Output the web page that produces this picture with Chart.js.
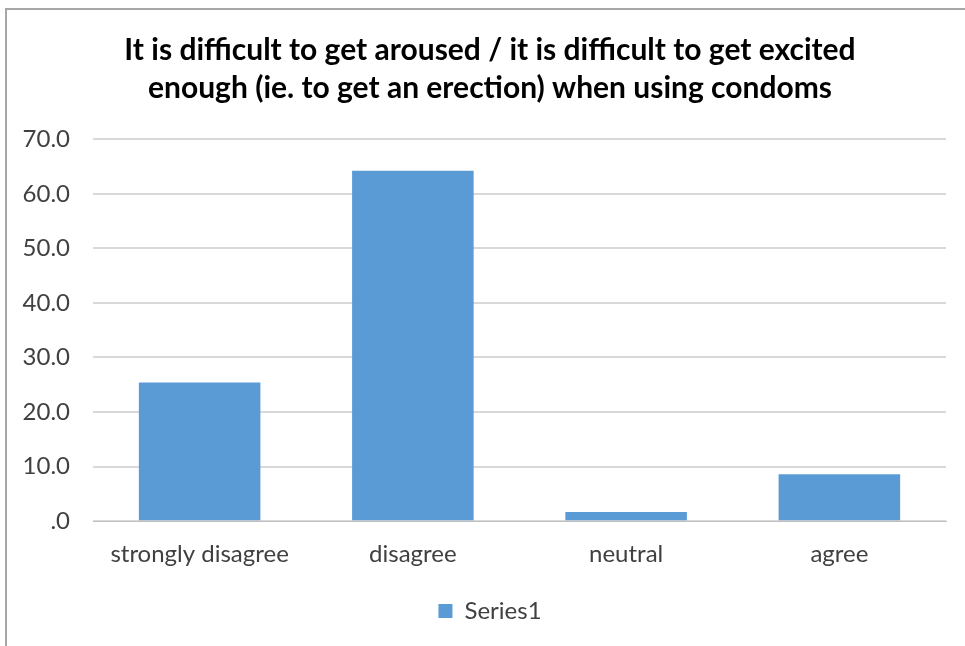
<!DOCTYPE html>
<html>
<head>
<meta charset="utf-8">
<title>Condom use survey</title>
<script src="https://cdn.jsdelivr.net/npm/chart.js@4/dist/chart.umd.min.js"></script>
<style>
  html, body { margin: 0; padding: 0; background: #ffffff; }
  #wrap { position: relative; width: 965px; height: 646px; overflow: hidden; }
  #frame {
    position: absolute; left: 5px; top: 8px; right: -4px; bottom: -4px;
    border-left: 2px solid #a6a6a6; border-top: 2px solid #a6a6a6;
  }
  canvas { position: absolute; left: 0; top: 0; }
</style>
</head>
<body>
<div id="wrap">
  <div id="frame"></div>
  <canvas id="chart" width="965" height="646"></canvas>
</div>
<script>
// Survey item and answer shares (percent)
const titleLines = [
  'It is difficult to get aroused / it is difficult to get excited',
  'enough (ie. to get an erection) when using condoms'
];
const categories = ['strongly disagree', 'disagree', 'neutral', 'agree'];
const seriesName = 'Series1';
const values = [25.4, 64.2, 1.7, 8.6];
const yTicks = [0, 10, 20, 30, 40, 50, 60, 70];

const FONT = 'Lato, "Open Sans", sans-serif';
const TEXT = '#404040';

new Chart(document.getElementById('chart'), {
  type: 'bar',
  data: {
    labels: categories,
    datasets: [{
      label: seriesName,
      data: values,
      backgroundColor: '#5b9bd5',
      borderWidth: 0,
      barPercentage: 0.57,
      categoryPercentage: 1.0
    }]
  },
  options: {
    responsive: false,
    animation: false,
    devicePixelRatio: 1,
    layout: { padding: { left: 18, right: 3, top: 0, bottom: 13 } },
    plugins: {
      title: {
        display: true,
        text: titleLines,
        color: '#000000',
        font: { family: FONT, size: 30, weight: 'bold', lineHeight: 1.27 },
        padding: { top: 31, bottom: 32 }
      },
      legend: {
        position: 'bottom',
        labels: {
          color: TEXT,
          font: { family: FONT, size: 24 },
          boxWidth: 14,
          boxHeight: 14,
          padding: 11
        }
      },
      tooltip: { enabled: false }
    },
    scales: {
      x: {
        grid: { display: false, drawTicks: false },
        border: { display: true, color: '#bfbfbf', width: 1 },
        ticks: { color: TEXT, font: { family: FONT, size: 24 }, padding: 19 }
      },
      y: {
        min: 0,
        max: 70,
        afterBuildTicks: (scale) => { scale.ticks = yTicks.map(v => ({ value: v })); },
        afterFit: (scale) => { scale.width = 75; },
        grid: { color: '#d9d9d9', lineWidth: 2, drawTicks: false },
        border: { display: false },
        ticks: {
          color: TEXT,
          font: { family: FONT, size: 24 },
          padding: 23,
          callback: (v) => v === 0 ? '.0' : Number(v).toFixed(1)
        }
      },
      // empty right-hand margin beside the plot
      yRight: {
        position: 'right',
        grid: { display: false, drawTicks: false },
        border: { display: false },
        ticks: { display: false },
        afterFit: (scale) => { scale.width = 16; }
      }
    }
  }
});
</script>
</body>
</html>
